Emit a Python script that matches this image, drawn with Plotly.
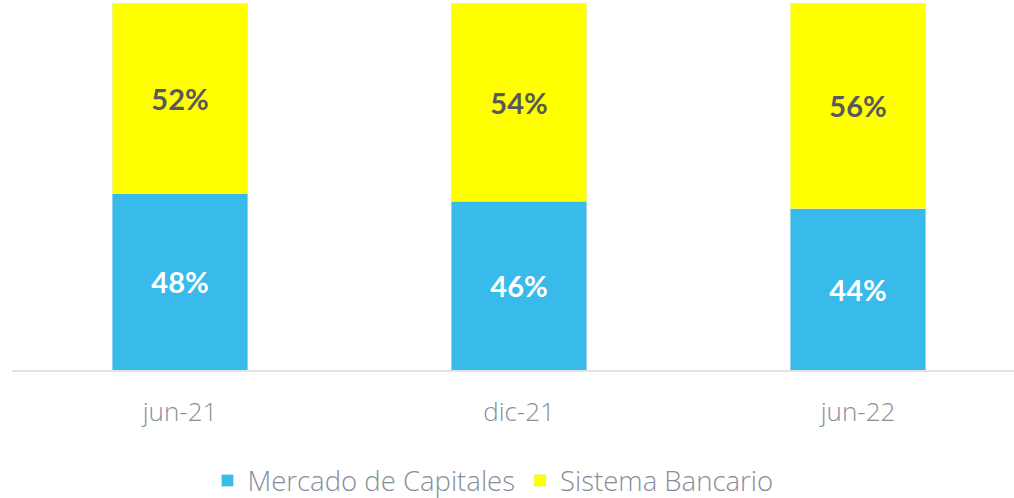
import plotly.graph_objects as go

periods = ["jun-21", "dic-21", "jun-22"]
mercado = [0.48, 0.46, 0.44]
bancario = [0.52, 0.54, 0.56]

fig = go.Figure()

fig.add_trace(go.Bar(
    x=periods, y=mercado, name="Mercado de Capitales",
    marker_color="#38BAEB", width=0.4,
    text=[f"{v:.0%}" for v in mercado], textposition="inside",
    insidetextanchor="middle",
    textfont=dict(color="white", size=29, family="Lato", weight="bold")))

fig.add_trace(go.Bar(
    x=periods, y=bancario, name="Sistema Bancario",
    marker_color="#FFFF00", width=0.4,
    text=[f"{v:.0%}" for v in bancario], textposition="inside",
    insidetextanchor="middle",
    textfont=dict(color="#595959", size=29, family="Lato", weight="bold")))

fig.update_layout(
    barmode="stack",
    width=1014, height=498,
    margin=dict(l=12, r=0, t=3, b=128),
    plot_bgcolor="white", paper_bgcolor="white",
    uniformtext=dict(minsize=8, mode="show"),
    font=dict(family="Open Sans", color="#8A8D99"),
    legend=dict(orientation="h", x=0.48, xanchor="center",
                yref="container", y=0.035, yanchor="middle",
                font=dict(size=27.5, color="#8A8D99", weight=300), traceorder="normal",
                itemwidth=30))

fig.update_xaxes(range=[-0.4956, 2.460], showline=True, linecolor="#E3E3E3",
                 linewidth=2, ticks="", ticklabelstandoff=18, automargin=False,
                 tickfont=dict(size=26, color="#8A8D99", weight=300))
fig.update_yaxes(range=[0, 1], visible=False, showgrid=False)

fig.write_html("out.html", config={"displayModeBar": False},
               post_script="document.body.style.margin='0';")
